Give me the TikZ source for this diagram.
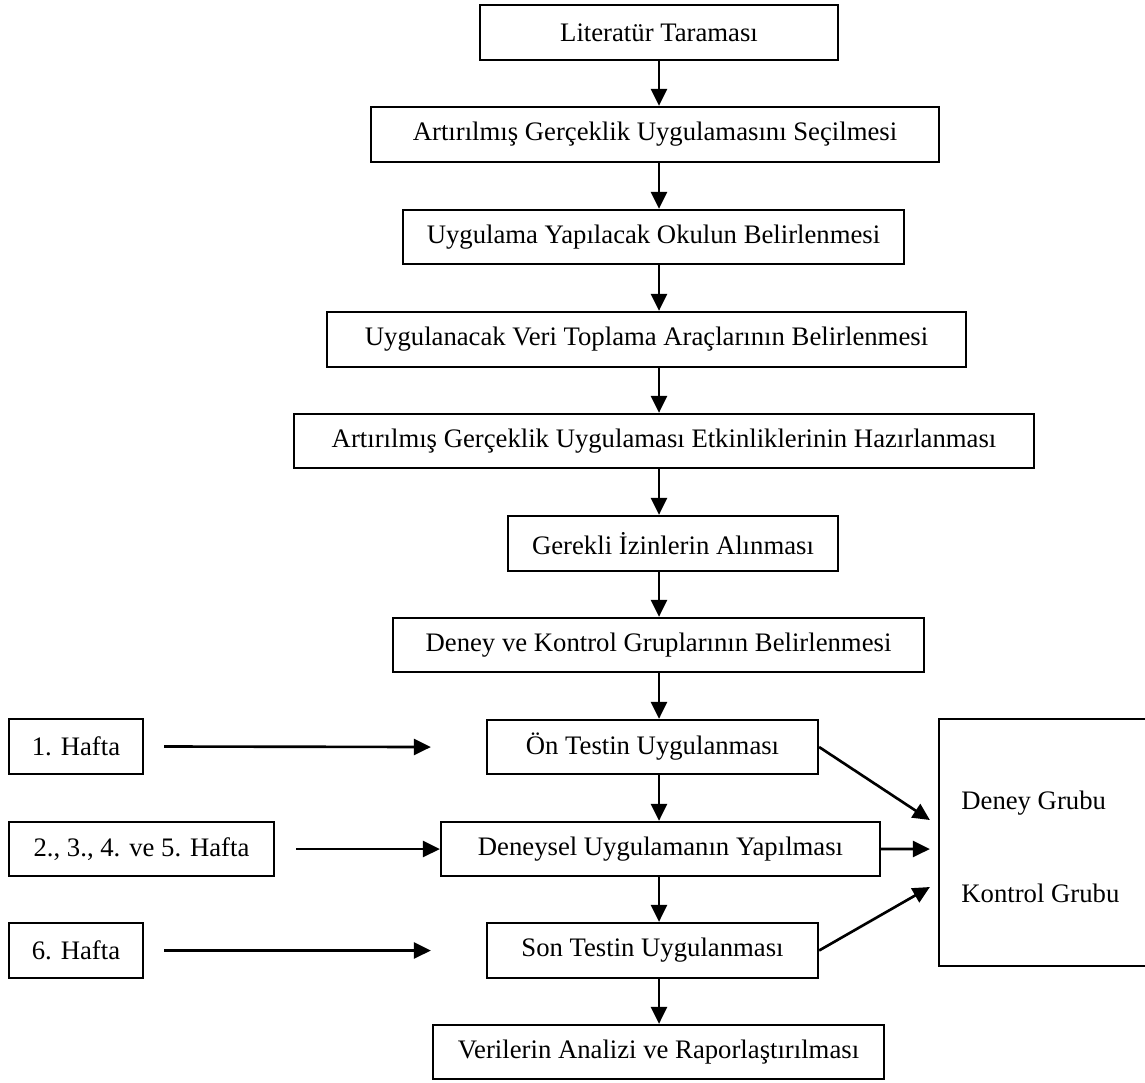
\documentclass[tikz,border=0pt]{standalone}
\usepackage{fontspec}
\setmainfont{Liberation Serif}
\usetikzlibrary{arrows.meta,calc}
\begin{document}
\begin{tikzpicture}[x=0.02cm,y=-0.02cm,
  box/.style={draw,line width=1.3pt,inner sep=0pt,font=\fontsize{15.2}{18}\selectfont},
  lbl/.style={inner sep=0pt,anchor=west,font=\fontsize{15.2}{18}\selectfont},
  arr/.style={line width=1.5pt,-{Triangle[length=0.34cm,width=0.32cm]}}]
\useasboundingbox (0,0) rectangle (1145,1082);
% main column
\node[box,minimum width=7.16cm,minimum height=1.10cm] (lit) at (659,32.5) {Literatür Taraması};
\node[box,minimum width=11.36cm,minimum height=1.10cm] (sec) at (655,134.5) {Artırılmış Gerçeklik Uygulamasını Seçilmesi};
\node[box,minimum width=10.02cm,minimum height=1.08cm] (okul) at (653.5,237) {Uygulama Yapılacak Okulun Belirlenmesi};
\node[box,minimum width=12.78cm,minimum height=1.10cm] (veri) at (646.5,339.5) {Uygulanacak Veri Toplama Araçlarının Belirlenmesi};
\node[box,minimum width=14.80cm,minimum height=1.08cm] (etk) at (664,441) {Artırılmış Gerçeklik Uygulaması Etkinliklerinin Hazırlanması};
\node[box,minimum width=6.60cm,minimum height=1.10cm] (izin) at (673,543.5) {Gerekli İzinlerin Alınması};
\node[box,minimum width=10.62cm,minimum height=1.08cm] (grup) at (658.5,645) {Deney ve Kontrol Gruplarının Belirlenmesi};
\node[box,minimum width=6.62cm,minimum height=1.08cm] (on) at (652.5,747) {Ön Testin Uygulanması};
\node[box,minimum width=8.78cm,minimum height=1.08cm] (den) at (660.5,849) {Deneysel Uygulamanın Yapılması};
\node[box,minimum width=6.62cm,minimum height=1.10cm] (son) at (652.5,950.5) {Son Testin Uygulanması};
\node[box,minimum width=9.02cm,minimum height=1.08cm] (ver) at (658.5,1052) {Verilerin Analizi ve Raporlaştırılması};
% week boxes
\node[box,minimum width=2.68cm,minimum height=1.10cm] (h1) at (76,746.5) {1. Hafta};
\node[box,minimum width=5.30cm,minimum height=1.08cm] (h2) at (141.5,849) {2., 3., 4. ve 5. Hafta};
\node[box,minimum width=2.68cm,minimum height=1.10cm] (h6) at (76,950.5) {6. Hafta};
% group box
\node[box,minimum width=4.22cm,minimum height=4.94cm] (grp) at (1044.5,842.5) {};
\node[lbl] (dg) at (961,803) {Deney Grubu};
\node[lbl] (kg) at (961,893) {Kontrol Grubu};
% vertical arrows
\coordinate (ax) at (659,0);
\foreach \a/\b in {lit/sec,sec/okul,okul/veri,veri/etk,etk/izin,izin/grup,grup/on,on/den,den/son,son/ver}
  \draw[arr] (ax |- \a.south) -- (ax |- \b.north);
% week arrows
\draw[arr] ($(h1.east)+(20,0)$) -- ($(on.west)+(-55,0)$);
\draw[arr] ($(h2.east)+(21,0)$) -- (den.west);
\draw[arr] ($(h6.east)+(20,0)$) -- ($(son.west)+(-55,0)$);
% to group box
\coordinate (t1) at ($(grp.west)+(-8,-22.5)$);
\coordinate (t2) at ($(grp.west)+(-8,6.5)$);
\coordinate (t3) at ($(grp.west)+(-8,44.5)$);
\draw[arr] (on.east) -- (t1);
\draw[arr] (den.east) -- (t2);
\draw[arr] (son.east) -- (t3);
\end{tikzpicture}
\end{document}
